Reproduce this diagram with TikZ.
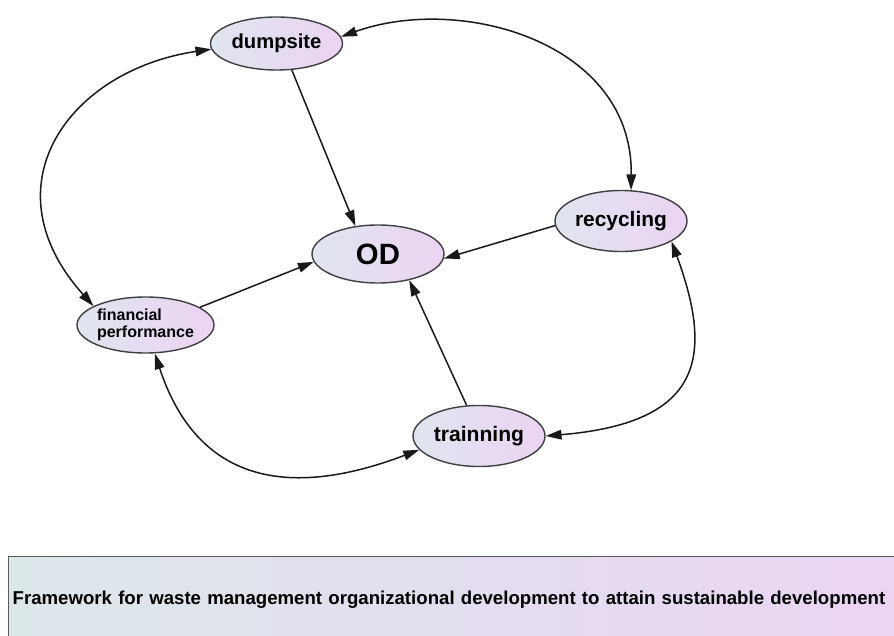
\documentclass[tikz,border=0pt]{standalone}
\usepackage{fontspec}
\setmainfont{Liberation Sans}
\usetikzlibrary{arrows.meta,shapes.geometric}
\definecolor{bluegrey}{HTML}{E0E5EE}
\definecolor{lilac}{HTML}{EBD4F3}
\definecolor{mist}{HTML}{DCE7EA}

\begin{document}
\begin{tikzpicture}[
  bubble/.style={ellipse,draw=black!75,line width=0.8pt,left color=bluegrey,right color=lilac,
    minimum width=2.64cm,minimum height=1.22cm,inner sep=0pt},
  link/.style={draw=black!90,line width=0.85pt,-{Triangle[length=9pt,width=5.5pt]}},
  twoway/.style={link,{Triangle[length=9pt,width=5.5pt]}-{Triangle[length=9pt,width=5.5pt]}}
]
  \clip (0,0) rectangle (17.88,12.7);
  % factors round the centre
  \node[bubble,minimum height=1.06cm,font=\bfseries\fontsize{11.5}{13}\selectfont] (dump) at (5.53,11.83){dumpsite};
  \node[bubble,minimum height=1.16cm,font=\bfseries\fontsize{16.7}{19}\selectfont] (od) at (7.56,7.62){OD};
  \node[bubble,font=\bfseries\fontsize{11.9}{14}\selectfont] (rec) at (12.42,8.28){recycling};
  \node[bubble,minimum height=1.12cm,align=left,font=\bfseries\fontsize{9.1}{9.8}\selectfont] (fin) at (2.91,6.2){financial\\performance};
  \node[bubble,font=\bfseries\fontsize{12}{14}\selectfont] (trn) at (9.58,3.98){trainning};

  % everything feeds OD
  \draw[link] (dump.-60) -- (od.129);
  \draw[link] (rec.184) -- (od.-4);
  \draw[link] (fin.18) -- (od.187);
  \draw[link] (trn.112) -- (od.-40);

  % outer ring
  \draw[twoway] (dump.185) .. controls (1.4,11.3) and (-0.3,9.0) .. (fin.160);
  \draw[twoway] (dump.6) .. controls (9.21,12.82) and (12.66,11.86) .. (rec.72);
  \draw[twoway] (rec.-22) .. controls (14.3,5.5) and (14.0,4.24) .. (trn.0);
  \draw[twoway] (fin.-72) .. controls (3.94,3.07) and (5.74,2.70) .. (trn.193);

  \node[draw=black!65,line width=0.8pt,left color=mist,right color=lilac,anchor=north west,
    minimum height=1.72cm,text width=18cm,inner xsep=0.08cm,align=left,
    font=\bfseries\fontsize{10.6}{12}\selectfont] (title) at (0.16,1.58)
    {Framework for waste management organizational development to attain sustainable development};
\end{tikzpicture}
\end{document}
